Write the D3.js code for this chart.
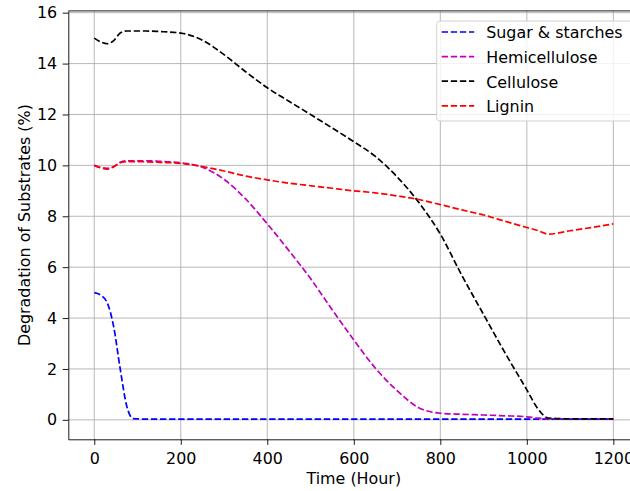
<!DOCTYPE html>
<html>
<head>
<meta charset="utf-8">
<script src="https://cdn.jsdelivr.net/npm/d3@7"></script>
<style>
  body { margin: 0; background: #fff; }
  text { font-family: "DejaVu Sans", sans-serif; }
</style>
</head>
<body>
<svg id="chart" width="630" height="491"></svg>
<script>
// hours sampled along the curves
var hours = [0, 15, 30, 45, 60, 75, 90, 120, 150, 200, 250, 300, 350, 400, 450, 500,
             550, 600, 650, 700, 750, 800, 850, 900, 950, 1000, 1025, 1050, 1100, 1150, 1200];

var sugar = [5.0, 4.9, 4.6, 3.65, 2.0, 0.55, 0.05, 0.03, 0.03, 0.03, 0.03, 0.03, 0.03, 0.03, 0.03, 0.03,
             0.03, 0.03, 0.03, 0.03, 0.03, 0.03, 0.03, 0.03, 0.03, 0.03, 0.03, 0.03, 0.03, 0.03, 0.03];

var hemicellulose = [10.0, 9.9, 9.85, 9.95, 10.12, 10.18, 10.18, 10.18, 10.16, 10.1, 9.93, 9.45, 8.68, 7.7, 6.65, 5.55,
                     4.33, 3.14, 2.03, 1.15, 0.48, 0.26, 0.22, 0.19, 0.16, 0.12, 0.07, 0.04, 0.03, 0.03, 0.03];

var cellulose = [15.0, 14.85, 14.78, 14.9, 15.2, 15.28, 15.28, 15.28, 15.26, 15.2, 14.92, 14.35, 13.68, 13.05, 12.52, 12.0,
                 11.47, 10.93, 10.35, 9.55, 8.55, 7.3, 5.67, 4.14, 2.62, 1.18, 0.45, 0.07, 0.04, 0.04, 0.04];

var lignin = [10.0, 9.92, 9.88, 9.95, 10.1, 10.15, 10.15, 10.14, 10.12, 10.08, 9.95, 9.78, 9.58, 9.43, 9.3, 9.2,
              9.1, 9.0, 8.92, 8.8, 8.66, 8.46, 8.25, 8.05, 7.8, 7.56, 7.44, 7.3, 7.43, 7.56, 7.7];

var seriesNames = ['Sugar & starches', 'Hemicellulose', 'Cellulose', 'Lignin'];
var seriesColors = ['#0000ff', '#bf00bf', '#000000', '#ff0000'];
var xTicks = [0, 200, 400, 600, 800, 1000, 1200];
var yTicks = [0, 2, 4, 6, 8, 10, 12, 14, 16];

var plotLeft = 68.3, plotRight = 639.3, plotTop = 10.9, plotBottom = 439.3;
var fontSize = 15.9,
    tickLen = 5.6,
    dash = '6.35,2.75';

var svg = d3.select('#chart');

var x = d3.scaleLinear().domain([-60, 1260]).range([plotLeft, plotRight]);
var y = d3.scaleLinear().domain([-0.764, 16.07]).range([plotBottom, plotTop]);

// grid
var grid = svg.append('g').attr('class', 'grid');
grid.selectAll('line.gx').data(xTicks).enter().append('line')
    .attr('x1', function(d) { return x(d); }).attr('x2', function(d) { return x(d); })
    .attr('y1', plotTop).attr('y2', plotBottom)
    .attr('stroke', '#b0b0b0').attr('stroke-width', 0.9);
grid.selectAll('line.gy').data(yTicks).enter().append('line')
    .attr('y1', function(d) { return y(d); }).attr('y2', function(d) { return y(d); })
    .attr('x1', plotLeft).attr('x2', plotRight)
    .attr('stroke', '#b0b0b0').attr('stroke-width', 0.9);

// lines
var allSeries = [sugar, hemicellulose, cellulose, lignin];
var line = d3.line()
    .x(function(d, i) { return x(hours[i]); })
    .y(function(d) { return y(d); })
    .curve(d3.curveMonotoneX);

svg.append('g').selectAll('path').data(allSeries).enter().append('path')
    .attr('d', line)
    .attr('fill', 'none')
    .attr('stroke', function(d, i) { return seriesColors[i]; })
    .attr('stroke-width', 1.7)
    .attr('stroke-dasharray', dash);

// axes
var xAxis = svg.append('g').attr('transform', 'translate(0,' + plotBottom + ')')
    .call(d3.axisBottom(x).tickValues(xTicks).tickFormat(d3.format('d'))
        .tickSizeInner(tickLen).tickSizeOuter(0).tickPadding(7.5));
var yAxis = svg.append('g').attr('transform', 'translate(' + plotLeft + ',0)')
    .call(d3.axisLeft(y).tickValues(yTicks).tickFormat(d3.format('d'))
        .tickSizeInner(tickLen).tickSizeOuter(0).tickPadding(5.6));

[xAxis, yAxis].forEach(function(ax) {
    ax.select('.domain').attr('stroke', '#000').attr('stroke-width', 0.9);
    ax.selectAll('.tick line').attr('stroke', '#000').attr('stroke-width', 0.9);
    ax.selectAll('.tick text').attr('fill', '#000')
        .style('font-size', fontSize + 'px').style('font-family', '"DejaVu Sans", sans-serif');
});

// top and right spines
svg.append('line').attr('x1', plotLeft).attr('x2', plotRight).attr('y1', plotTop).attr('y2', plotTop)
    .attr('stroke', '#000').attr('stroke-width', 0.9);
svg.append('line').attr('x1', plotRight).attr('x2', plotRight).attr('y1', plotTop).attr('y2', plotBottom)
    .attr('stroke', '#000').attr('stroke-width', 0.9);

// axis labels
svg.append('text')
    .attr('x', (plotLeft + plotRight) / 2).attr('y', 483.5)
    .attr('text-anchor', 'middle').attr('font-size', fontSize)
    .text('Time (Hour)');
svg.append('text')
    .attr('transform', 'translate(29.5,' + ((plotTop + plotBottom) / 2) + ') rotate(-90)')
    .attr('text-anchor', 'middle').attr('font-size', fontSize)
    .text('Degradation of Substrates (%)');

// legend
var legend = svg.append('g').attr('transform', 'translate(436.7,21)');
legend.append('rect')
    .attr('width', 196).attr('height', 100)
    .attr('rx', 3.2).attr('ry', 3.2)
    .attr('fill', '#fff').attr('fill-opacity', 0.8)
    .attr('stroke', '#cccccc').attr('stroke-width', 0.9);

var entry = legend.selectAll('g.entry').data(seriesNames).enter()
    .append('g').attr('class', 'entry')
    .attr('transform', function(d, i) { return 'translate(0,' + (11 + i * 24.6) + ')'; });

entry.append('line')
    .attr('x1', 5).attr('x2', 37.5)
    .attr('stroke', function(d, i) { return seriesColors[i]; })
    .attr('stroke-width', 1.7)
    .attr('stroke-dasharray', dash);

entry.append('text')
    .attr('x', 49.5).attr('dy', '0.4em')
    .attr('font-size', fontSize)
    .attr('fill', '#000')
    .text(function(d) { return d; });
</script>
</body>
</html>
